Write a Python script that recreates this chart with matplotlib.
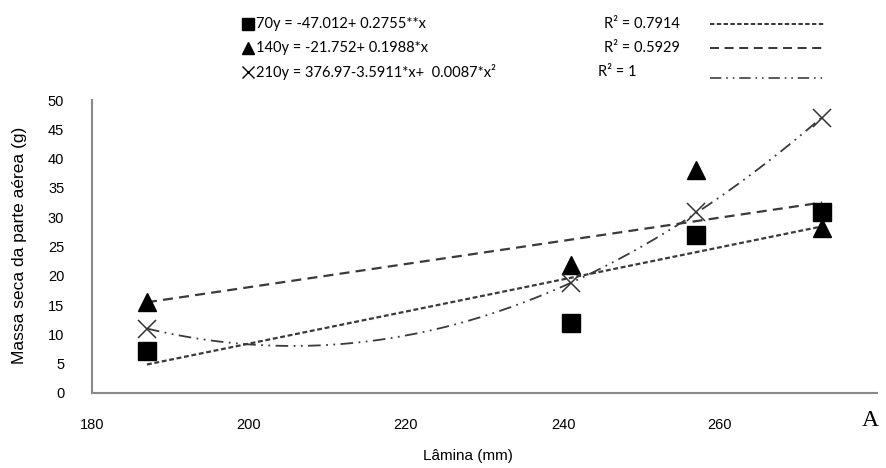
import numpy as np
import matplotlib
matplotlib.use("Agg")
import matplotlib.pyplot as plt
from matplotlib.lines import Line2D

# ---- data ----
lamina = [187, 241, 257, 273]
y70 = [7.2, 11.9, 27.0, 30.9]
y140 = [15.5, 21.8, 38.0, 28.2]
y210 = [11.0, 18.7, 30.9, 47.0]
x_ticks = [180, 200, 220, 240, 260, 280]
x_tick_labels = ["180", "200", "220", "240", "260", ""]
y_ticks = [0, 5, 10, 15, 20, 25, 30, 35, 40, 45, 50]
eq_labels = ["70y = -47.012+ 0.2755**x",
             "140y = -21.752+ 0.1988*x",
             "210y = 376.97-3.5911*x+  0.0087*x\u00b2"]
r2_labels = ["R\u00b2 = 0.7914", "R\u00b2 = 0.5929", "R\u00b2 = 1"]

W, H = 887, 468
fig = plt.figure(figsize=(W / 100, H / 100), dpi=100)
ax = fig.add_axes([92 / W, 1 - 393 / H, (877 - 92) / W, (393 - 100) / H])

tick_font = "Liberation Sans"
axis_color = "#8a8a8a"
line_color = "#3a3a3a"

styles = {
    "70": dict(dashes=(2.2, 1.2), lw=1.6),
    "140": dict(dashes=(4.5, 2.8), lw=1.6),
    "210": dict(dashes=(7, 3, 1, 3, 1, 3), lw=1.3),
}

# trendlines fitted from the data
xx = np.linspace(min(lamina), max(lamina), 200)
c70 = np.polyfit(lamina, y70, 1)
c140 = np.polyfit(lamina, y140, 1)
c210 = np.polyfit(lamina, y210, 2)
ax.plot(xx, np.polyval(c70, xx), color=line_color, **styles["70"])
ax.plot(xx, np.polyval(c140, xx), color=line_color, **styles["140"])
ax.plot(xx, np.polyval(c210, xx), color=line_color, **styles["210"])

ax.plot(lamina, y70, linestyle="none", marker="s", markersize=12.5, color="black")
ax.plot(lamina, y140, linestyle="none", marker="^", markersize=12.5, color="black")
ax.plot(lamina, y210, linestyle="none", marker="x", markersize=13.5,
        markeredgewidth=1.1, color="#333333")

ax.set_xlim(180, 280)
ax.set_ylim(0, 50)
ax.set_xticks(x_ticks)
ax.set_xticklabels(x_tick_labels)
ax.set_yticks(y_ticks)
ax.tick_params(length=0, labelsize=10.5, pad=18)
ax.tick_params(axis="y", pad=20)
for lab in ax.get_xticklabels() + ax.get_yticklabels():
    lab.set_fontfamily(tick_font)
for s in ["top", "right"]:
    ax.spines[s].set_visible(False)
for s in ["left", "bottom"]:
    ax.spines[s].set_color(axis_color)
    ax.spines[s].set_linewidth(1.5)

fig.text(20 / W, 1 - 245 / H, "Massa seca da parte a\u00e9rea (g)", rotation=90,
         ha="center", va="center", fontsize=12.5, family=tick_font)
fig.text(468 / W, 1 - 456 / H, "L\u00e2mina (mm)", ha="center", va="center",
         fontsize=11, family=tick_font)
fig.text(862 / W, 1 - 421 / H, "A", ha="left", va="center", fontsize=17,
         family="Liberation Serif")

# legend block
rows_y = [24, 48, 72]
markers = [dict(marker="s", markersize=8), dict(marker="^", markersize=8),
           dict(marker="x", markersize=8, markeredgewidth=1.0)]
r2_x = [604, 604, 598]
keys = ["70", "140", "210"]
for i in range(3):
    yf = 1 - rows_y[i] / H
    fig.add_artist(Line2D([248 / W], [yf], color="black", linestyle="none",
                          **markers[i]))
    fig.text(256 / W, yf, eq_labels[i], ha="left", va="center",
             fontsize=10.5, family="Lato")
    fig.text(r2_x[i] / W, yf, r2_labels[i], ha="left", va="center",
             fontsize=10.5, family="Lato")
    ly = yf - (0.012 if i == 2 else 0)
    st = styles[keys[i]]
    fig.add_artist(Line2D([710 / W, 824 / W], [ly, ly], color=line_color,
                          lw=st["lw"] * 0.9, dashes=st["dashes"]))

fig.savefig("out.png", dpi=100)
